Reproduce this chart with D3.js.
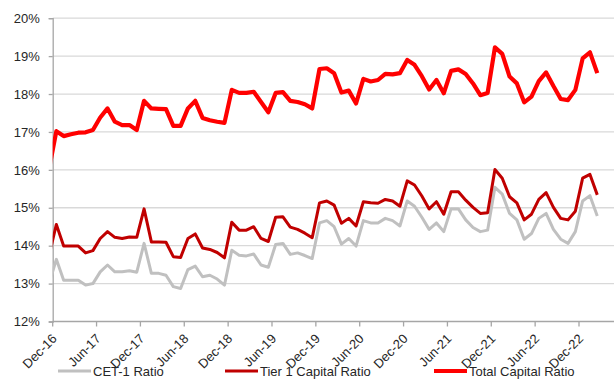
<!DOCTYPE html>
<html>
<head>
<meta charset="utf-8">
<script src="https://cdn.jsdelivr.net/npm/d3@7"></script>
<style>
  html, body { margin: 0; padding: 0; background: #fff; }
  svg { display: block; font-family: "Liberation Sans", Arial, sans-serif; }
</style>
</head>
<body>
<svg id="chart" width="614" height="383"></svg>
<script>
// Monthly capital ratios (%), Nov-16 through Feb-23 (first month sits just left of the axis)
const cet1 = [
  13.0, 13.64, 13.09, 13.09, 13.09, 12.96, 13.00, 13.31, 13.49, 13.31, 13.31, 13.34, 13.30,
  14.06, 13.27, 13.27, 13.22, 12.92, 12.87, 13.37, 13.46, 13.18, 13.22, 13.12, 12.96,
  13.88, 13.75, 13.73, 13.78, 13.49, 13.43, 14.03, 14.06, 13.77, 13.81, 13.74, 13.66,
  14.60, 14.66, 14.50, 14.04, 14.19, 13.99, 14.66, 14.60, 14.60, 14.72, 14.66, 14.52,
  15.18, 15.04, 14.75, 14.43, 14.60, 14.37, 14.97, 14.97, 14.68, 14.48, 14.37, 14.41,
  15.54, 15.36, 14.85, 14.68, 14.17, 14.32, 14.72, 14.85, 14.43, 14.17, 14.06, 14.37,
  15.18, 15.32, 14.78
];
const tier1 = [
  13.74, 14.56, 13.99, 13.99, 13.99, 13.81, 13.87, 14.19, 14.37, 14.22, 14.19, 14.23, 14.22,
  14.97, 14.10, 14.10, 14.09, 13.71, 13.69, 14.19, 14.31, 13.94, 13.90, 13.82, 13.68,
  14.62, 14.41, 14.41, 14.50, 14.19, 14.11, 14.75, 14.76, 14.49, 14.43, 14.33, 14.21,
  15.13, 15.18, 15.07, 14.59, 14.72, 14.52, 15.16, 15.13, 15.12, 15.22, 15.18, 15.04,
  15.71, 15.60, 15.31, 14.97, 15.16, 14.83, 15.42, 15.42, 15.20, 15.01, 14.85, 14.87,
  16.01, 15.78, 15.29, 15.13, 14.68, 14.83, 15.22, 15.40, 15.01, 14.72, 14.68, 14.91,
  15.78, 15.88, 15.34
];
const totalCap = [
  16.02, 17.02, 16.89, 16.94, 16.98, 16.99, 17.05, 17.38, 17.62, 17.27, 17.18, 17.18, 17.05,
  17.82, 17.62, 17.61, 17.60, 17.16, 17.16, 17.62, 17.82, 17.37, 17.31, 17.27, 17.24,
  18.11, 18.03, 18.03, 18.06, 17.79, 17.52, 18.03, 18.05, 17.82, 17.79, 17.73, 17.62,
  18.66, 18.68, 18.55, 18.04, 18.09, 17.75, 18.40, 18.33, 18.37, 18.53, 18.52, 18.55,
  18.90, 18.77, 18.47, 18.12, 18.37, 18.02, 18.61, 18.65, 18.53, 18.28, 17.97, 18.03,
  19.23, 19.06, 18.46, 18.28, 17.78, 17.93, 18.34, 18.57, 18.21, 17.87, 17.84, 18.11,
  18.94, 19.10, 18.55
];
const tickLabels = ["Dec-16","Jun-17","Dec-17","Jun-18","Dec-18","Jun-19","Dec-19",
                    "Jun-20","Dec-20","Jun-21","Dec-21","Jun-22","Dec-22"];
const yTicks = [12, 13, 14, 15, 16, 17, 18, 19, 20];
const seriesNames = ["CET-1 Ratio", "Tier 1 Capital Ratio", "Total Capital Ratio"];

const svg = d3.select("#chart");
const W = 614;

// x: months counted from the start of Dec-16; each month is a slot, points sit mid-slot
const x = d3.scaleLinear().domain([0, 72]).range([52.7, 579]);
const y = d3.scaleLinear().domain([12, 20]).range([321.5, 18.2]);
const plotLeft = x(0), plotRight = W, plotBottom = y(12);

// gridlines
svg.append("g").selectAll("line")
  .data(yTicks.filter(d => d > 12))
  .join("line")
  .attr("x1", plotLeft).attr("x2", plotRight)
  .attr("y1", d => y(d)).attr("y2", d => y(d))
  .attr("stroke", "#d9d9d9").attr("stroke-width", 1.3);

// y axis
const yAxis = svg.append("g").attr("transform", `translate(${plotLeft},0)`)
  .call(d3.axisLeft(y).tickValues(yTicks).tickFormat(d => d + "%").tickSizeOuter(0).tickSize(4).tickPadding(9));
yAxis.select(".domain").attr("stroke", "#a6a6a6").attr("stroke-width", 1.3);
yAxis.selectAll(".tick line").attr("stroke", "#a6a6a6").attr("stroke-width", 1.3);
yAxis.selectAll("text").attr("font-size", 13).attr("fill", "#262626")
  .attr("font-family", "'Liberation Sans', Arial, sans-serif");

// x axis
const xg = svg.append("g");
xg.append("line").attr("x1", plotLeft).attr("x2", plotRight)
  .attr("y1", plotBottom).attr("y2", plotBottom)
  .attr("stroke", "#a6a6a6").attr("stroke-width", 1.3);
const xt = xg.selectAll("g.xt").data(tickLabels).join("g").attr("class", "xt")
  .attr("transform", (d, i) => `translate(${x(i * 6)},${plotBottom})`);
xt.append("line").attr("y1", 0).attr("y2", 5).attr("stroke", "#a6a6a6").attr("stroke-width", 1.3);
xt.append("text")
  .attr("transform", "translate(5,18) rotate(-45)")
  .attr("text-anchor", "end")
  .attr("font-size", 13).attr("fill", "#262626")
  .text(d => d);

// lines
svg.append("clipPath").attr("id", "plot-clip").append("rect")
  .attr("x", plotLeft).attr("y", 0).attr("width", plotRight - plotLeft).attr("height", plotBottom + 2);
const line = d3.line().x((d, i) => x(i - 0.5)).y(d => y(d));
const series = [
  { values: cet1, color: "#c0c0c0", width: 3 },
  { values: tier1, color: "#c00000", width: 3 },
  { values: totalCap, color: "#ff0000", width: 4.2 }
];
svg.append("g").attr("clip-path", "url(#plot-clip)")
  .selectAll("path").data(series).join("path")
  .attr("d", s => line(s.values))
  .attr("fill", "none")
  .attr("stroke", s => s.color)
  .attr("stroke-width", s => s.width)
  .attr("stroke-linejoin", "round")
  .attr("stroke-linecap", "butt");

// legend
const legendX = [58, 225, 434];
const lg = svg.append("g").selectAll("g").data(series).join("g")
  .attr("transform", (d, i) => `translate(${legendX[i]},371)`);
lg.append("line").attr("x1", 0).attr("x2", 33).attr("y1", 0).attr("y2", 0)
  .attr("stroke", s => s.color).attr("stroke-width", s => s.width);
lg.append("text").attr("x", 35).attr("y", 5)
  .attr("font-size", 13).attr("fill", "#262626")
  .text((d, i) => seriesNames[i]);
</script>
</body>
</html>
